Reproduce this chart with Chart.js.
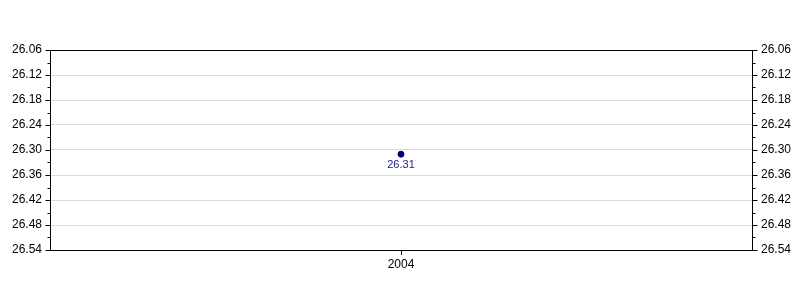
<!DOCTYPE html>
<html>
<head>
<meta charset="utf-8">
<script src="https://cdn.jsdelivr.net/npm/chart.js@4/dist/chart.umd.min.js"></script>
<style>
  html, body { margin: 0; padding: 0; background: #fff; }
  #wrap { width: 800px; height: 300px; }
</style>
</head>
<body>
<div id="wrap"><canvas id="chart" width="800" height="300"></canvas></div>
<script>
// Chart data
const years = ['2004'];
const values = [26.31];
const yMin = 26.06;
const yMax = 26.54;
const yStep = 0.06;

// Draws the frame, major/minor tick marks on both y axes and the value labels
const extrasPlugin = {
    id: 'extras',
    afterDraw(chart) {
        const ctx = chart.ctx;
        const area = chart.chartArea;
        ctx.save();
        ctx.strokeStyle = '#000';
        ctx.lineWidth = 1;
        ctx.strokeRect(Math.round(area.left) + 0.5, Math.round(area.top) + 0.5,
            Math.round(area.right - area.left), Math.round(area.bottom - area.top));

        ['y', 'y2'].forEach(function (id) {
            const scale = chart.scales[id];
            const x = id === 'y' ? Math.round(area.left) + 0.5 : Math.round(area.right) + 0.5;
            const dir = id === 'y' ? -1 : 1;
            const vals = scale.ticks.map(t => t.value);
            ctx.beginPath();
            vals.forEach(function (v, i) {
                const py = Math.round(scale.getPixelForValue(v)) + 0.5;
                ctx.moveTo(x, py);
                ctx.lineTo(x + dir * 5, py);
                if (i < vals.length - 1) {
                    const my = Math.round(scale.getPixelForValue((v + vals[i + 1]) / 2)) + 0.5;
                    ctx.moveTo(x, my);
                    ctx.lineTo(x + dir * 3, my);
                }
            });
            ctx.stroke();
        });

        // value labels below points
        const meta = chart.getDatasetMeta(0);
        ctx.fillStyle = '#1a1a8c';
        ctx.font = '11px "Liberation Sans", Arial, sans-serif';
        ctx.textAlign = 'center';
        ctx.textBaseline = 'top';
        meta.data.forEach(function (pt, i) {
            ctx.fillText(values[i].toFixed(2), pt.x, pt.y + 5);
        });
        ctx.restore();
    }
};

const tickFont = { family: '"Liberation Sans", Arial, sans-serif', size: 12 };

new Chart(document.getElementById('chart'), {
    type: 'line',
    data: {
        labels: years,
        datasets: [{
            data: values,
            borderColor: '#000060',
            backgroundColor: '#000080',
            pointRadius: 3,
            pointBorderWidth: 1,
            showLine: false
        }]
    },
    options: {
        responsive: false,
        animation: false,
        layout: { padding: { top: 50, left: 0, right: 0, bottom: 0 } },
        plugins: {
            legend: { display: false },
            tooltip: { enabled: false }
        },
        scales: {
            x: {
                offset: true,
                grid: { drawOnChartArea: false, drawTicks: true, tickLength: 5, color: '#000' },
                border: { color: '#000' },
                ticks: { color: '#000', font: tickFont, padding: 2, maxRotation: 0 },
                afterFit(scale) { scale.height = 50; }
            },
            y: {
                position: 'left',
                reverse: true,
                min: yMin,
                max: yMax,
                grid: { color: '#dcdcdc', drawTicks: false },
                border: { color: '#000' },
                ticks: {
                    stepSize: yStep,
                    color: '#000',
                    font: tickFont,
                    padding: 8,
                    callback: v => Number(v).toFixed(2)
                },
                afterFit(scale) { scale.width = 50; }
            },
            y2: {
                position: 'right',
                reverse: true,
                min: yMin,
                max: yMax,
                grid: { drawOnChartArea: false, drawTicks: false },
                border: { color: '#000' },
                ticks: {
                    stepSize: yStep,
                    color: '#000',
                    font: tickFont,
                    padding: 9,
                    callback: v => Number(v).toFixed(2)
                },
                afterFit(scale) { scale.width = 48; }
            }
        }
    },
    plugins: [extrasPlugin]
});
</script>
</body>
</html>
